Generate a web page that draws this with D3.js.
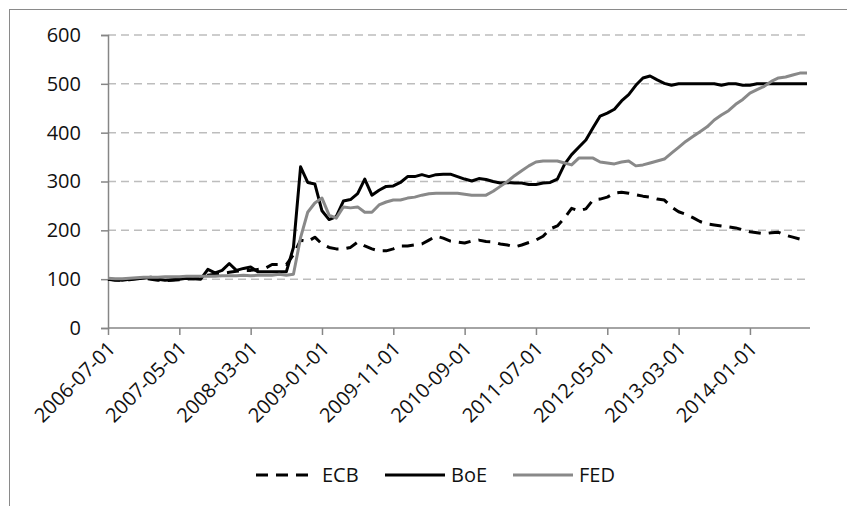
<!DOCTYPE html>
<html>
<head>
<meta charset="utf-8">
<script src="https://cdn.jsdelivr.net/npm/d3@7"></script>
<style>
  html, body { margin: 0; padding: 0; background: #fff; }
  svg { display: block; }
  text { font-family: "Open Sans", "Noto Sans", sans-serif; fill: #111; }
</style>
</head>
<body>
<svg id="chart" width="847" height="506"></svg>
<script>
// Monthly observations from 2006-07-01 to 2014-09-01 (index 2006-07 = 100)
const startMonth = "2006-07-01";
const nMonths = 99;
const tickLabels = ["2006-07-01","2007-05-01","2008-03-01","2009-01-01","2009-11-01",
                    "2010-09-01","2011-07-01","2012-05-01","2013-03-01","2014-01-01"];
const yTicks = [0, 100, 200, 300, 400, 500, 600];
const seriesNames = ["ECB", "BoE", "FED"];

const ecb = [100,98,98,99,101,102,100,98,97,98,99,100,101,103,
  108,110,112,114,116,118,118,120,122,130,130,130,
  150,180,177,186,172,165,162,162,165,176,168,162,158,158,162,168,168,170,172,180,188,184,
  178,176,174,178,180,177,176,172,170,166,170,175,180,188,203,209,225,245,240,244,262,264,
  268,276,278,276,273,270,268,264,262,248,238,233,226,218,213,211,209,207,205,201,197,195,
  193,195,196,190,186,182,178];

const boe = [100,99,98,100,101,102,104,100,98,99,100,102,101,100,
  120,113,118,132,118,122,125,115,115,115,115,115,
  165,330,298,295,240,222,228,260,263,275,305,272,282,290,291,298,310,310,314,310,314,315,
  315,310,305,301,306,304,300,297,298,297,297,294,294,297,298,305,335,355,370,385,410,434,
  440,448,465,478,497,512,516,508,501,497,500,500,500,500,500,500,497,500,500,497,497,500,
  500,500,500,500,500,500,500];

const fed = [102,101,101,102,103,104,104,104,105,105,105,106,106,106,
  106,106,107,107,107,108,107,108,108,108,110,108,
  110,185,237,256,266,231,225,248,246,248,237,237,252,258,262,262,266,268,272,275,276,276,
  276,276,274,272,272,272,280,290,300,312,322,332,340,342,342,342,338,334,348,348,348,340,
  338,336,340,342,332,334,338,342,346,358,370,382,392,402,412,426,436,445,458,468,481,488,
  495,505,512,514,518,522,522];

const svg = d3.select("#chart");

// outer chart frame
svg.append("rect").attr("x", 9.5).attr("y", 9.5).attr("width", 900).attr("height", 600)
  .attr("fill", "none").attr("stroke", "#8a8a8a").attr("stroke-width", 1);

const parse = d3.timeParse("%Y-%m-%d");
const fmt = d3.timeFormat("%Y-%m-%d");
const start = parse(startMonth);
const months = d3.range(nMonths).map(i => d3.timeMonth.offset(start, i));
const monthKeys = months.map(fmt);

const x = d3.scalePoint().domain(monthKeys).range([108, 807]);
const y = d3.scaleLinear().domain([0, 600]).range([328, 35]);

// gridlines
svg.append("g").selectAll("line").data(yTicks.filter(d => d > 0)).join("line")
  .attr("x1", 108).attr("x2", 810)
  .attr("y1", d => y(d)).attr("y2", d => y(d))
  .attr("stroke", "#bdbdbd").attr("stroke-width", 1.5).attr("stroke-dasharray", "8,5");

// y axis
const yAxis = svg.append("g").attr("transform", "translate(108,0)")
  .call(d3.axisLeft(y).tickValues(yTicks).tickSize(7).tickPadding(20));
yAxis.select(".domain").attr("stroke", "#868686").attr("stroke-width", 1.5);
yAxis.selectAll(".tick line").attr("stroke", "#868686").attr("stroke-width", 1.5);
yAxis.selectAll("text").attr("font-size", 20).attr("font-family", "Open Sans").attr("fill", "#111");

// x axis
const xAxis = svg.append("g").attr("transform", "translate(0,328)")
  .call(d3.axisBottom(x).tickValues(tickLabels).tickSize(7).tickSizeOuter(0));
xAxis.select(".domain").attr("stroke", "#868686").attr("stroke-width", 1.5)
  .attr("d", "M108,0H810");
xAxis.selectAll(".tick line").attr("stroke", "#868686").attr("stroke-width", 1.5);
xAxis.selectAll("text")
  .attr("font-size", 20).attr("font-family", "Open Sans").attr("fill", "#111")
  .attr("text-anchor", "end")
  .attr("dy", 0).attr("y", 0)
  .attr("transform", "translate(8,22) rotate(-45)");

// lines
const styles = {
  ECB: {color: "#000", dash: "12,8", data: ecb},
  BoE: {color: "#000", dash: null, data: boe},
  FED: {color: "#898989", dash: null, data: fed}
};
const line = d3.line().x((d, i) => x(monthKeys[i])).y(d => y(d));

seriesNames.forEach(name => {
  const s = styles[name];
  svg.append("path").datum(s.data)
    .attr("d", line)
    .attr("fill", "none")
    .attr("stroke", s.color)
    .attr("stroke-width", 3)
    .attr("stroke-linejoin", "round")
    .attr("stroke-dasharray", s.dash);
});

// legend
const legendItems = [
  {name: "ECB", x0: 256},
  {name: "BoE", x0: 385},
  {name: "FED", x0: 513}
];
const lg = svg.append("g");
legendItems.forEach(it => {
  const s = styles[it.name];
  lg.append("line").attr("x1", it.x0).attr("x2", it.x0 + 60)
    .attr("y1", 475).attr("y2", 475)
    .attr("stroke", s.color).attr("stroke-width", 3)
    .attr("stroke-dasharray", s.dash);
  lg.append("text").attr("x", it.x0 + 66).attr("y", 475).attr("dy", "0.36em")
    .attr("font-size", 20).text(it.name);
});
</script>
</body>
</html>
